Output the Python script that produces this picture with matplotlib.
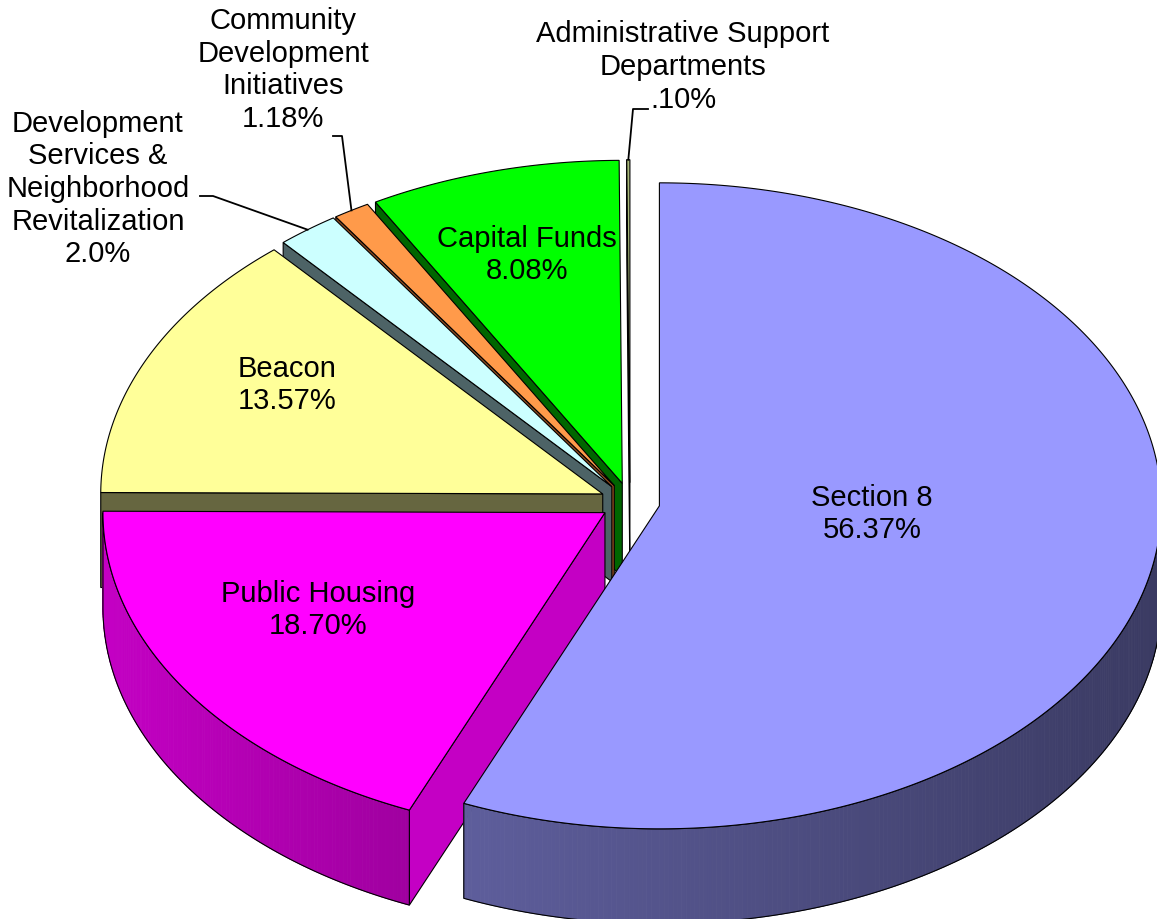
import numpy as np
import matplotlib.pyplot as plt
from matplotlib.patches import Polygon
from matplotlib.collections import PolyCollection
from matplotlib.colors import to_rgb

plt.rcParams['font.family'] = ['Liberation Sans', 'DejaVu Sans']

# data (clockwise from 12 o'clock)
names = ['Section 8', 'Public Housing', 'Beacon',
         'Development\nServices &\nNeighborhood\nRevitalization',
         'Community\nDevelopment\nInitiatives', 'Capital Funds',
         'Administrative Support\nDepartments']
shares = [56.37, 18.70, 13.57, 2.0, 1.18, 8.08, 0.10]
pct_labels = ['56.37%', '18.70%', '13.57%', '2.0%', '1.18%', '8.08%', '.10%']

top_colors = ['#9999FF', '#FF00FF', '#FFFF99', '#CCFFFF', '#FF9A4A', '#00FF00', '#A8B878']
face_colors = ['#3C3C64', '#C400C4', '#666640', '#4D6366', '#8F4A1E', '#006600', '#5A6A38']
wall_left = ['#5E5E9C', '#C400C4', '#666640', '#4D6366', '#8F4A1E', '#006600', '#5A6A38']
wall_right = ['#3A3A62', '#A000A0', '#666640', '#4D6366', '#8F4A1E', '#006600', '#5A6A38']

# layout (pixels, y down)
cx, cy = 630, 503
rx, ry = 502, 323
depth = 95
explode = 30
label_xy = [(872, 514), (318, 610), (287, 385), (98, 189), (283, 70), (527, 255), (683, 67)]
inside = [True, True, True, False, False, True, False]
elbows = {3: [(213, 197), (200, 197)], 4: [(342, 137), (333, 137)], 6: [(633, 110), (648, 110)]}

fig = plt.figure(figsize=(11.57, 9.2), dpi=100)
ax = fig.add_axes([0, 0, 1, 1])
ax.set_xlim(0, 1157)
ax.set_ylim(920, 0)
ax.axis('off')


def arc(ox, oy, phis, dz=0.0):
    r = np.radians(phis)
    return np.column_stack([ox + rx * np.cos(r), oy - ry * np.sin(r) + dz])


def wall_runs(t2, t1):
    ph = np.linspace(t2, t1, max(2, int((t1 - t2) / 0.5) + 2))
    cuts = [a for a in (-180, 0, 180, 360) if t2 < a < t1]
    ph = np.unique(np.concatenate([ph, cuts]))
    mids = (ph[:-1] + ph[1:]) / 2
    vis = np.sin(np.radians(mids)) < 0
    runs, cur = [], None
    for i, v in enumerate(vis):
        if v:
            if cur is None:
                cur = [ph[i]]
            cur.append(ph[i + 1])
        elif cur is not None:
            runs.append(np.array(cur))
            cur = None
    if cur is not None:
        runs.append(np.array(cur))
    return runs


cum = np.concatenate([[0], np.cumsum(shares)])
starts = 90 - cum[:-1] * 3.6
ends = 90 - cum[1:] * 3.6

geo = []
for i in range(len(shares)):
    t1, t2 = starts[i], ends[i]
    m = np.radians((t1 + t2) / 2)
    ox = cx + explode * np.cos(m)
    oy = cy - explode * (ry / rx) * np.sin(m)
    geo.append((t1, t2, ox, oy))

lw = 0.8
for i in reversed(range(len(shares))):
    t1, t2, ox, oy = geo[i]
    # radial side faces
    for t, nrm in ((t1, t1 + 90), (t2, t2 - 90)):
        if np.sin(np.radians(nrm)) < 0:
            p = arc(ox, oy, [t])[0]
            quad = [(ox, oy), p, (p[0], p[1] + depth), (ox, oy + depth)]
            ax.add_patch(Polygon(quad, closed=True, fc=face_colors[i], ec='black', lw=lw))
    # outer wall with gradient
    for run in wall_runs(t2, t1):
        top = arc(ox, oy, run)
        bot = arc(ox, oy, run, depth)
        xs = top[:, 0]
        span = max(xs.max() - xs.min(), 1)
        cl, cr = np.array(to_rgb(wall_left[i])), np.array(to_rgb(wall_right[i]))
        quads, cols = [], []
        for k in range(len(run) - 1):
            quads.append([top[k], top[k + 1], bot[k + 1], bot[k]])
            f = ((xs[k] + xs[k + 1]) / 2 - xs.min()) / span
            cols.append(cl + (cr - cl) * f)
        ax.add_collection(PolyCollection(quads, facecolors=cols, edgecolors=cols, linewidths=0.6))
        outline = np.vstack([top, bot[::-1]])
        ax.add_patch(Polygon(outline, closed=True, fill=False, ec='black', lw=lw))
    # top face
    phis = np.linspace(t2, t1, max(2, int((t1 - t2) / 0.5) + 2))
    pts = np.vstack([[ox, oy], arc(ox, oy, phis)])
    ax.add_patch(Polygon(pts, closed=True, fc=top_colors[i], ec='black', lw=lw))

fs = 21
for i in range(len(shares)):
    t1, t2, ox, oy = geo[i]
    x, y = label_xy[i]
    ax.text(x, y, names[i] + '\n' + pct_labels[i], ha='center', va='center',
            fontsize=fs, linespacing=1.21)
    if not inside[i]:
        p = arc(ox, oy, [(t1 + t2) / 2])[0]
        line = [tuple(p)] + elbows[i]
        ax.plot([q[0] for q in line], [q[1] for q in line], color='black', lw=1.3)

fig.savefig('out.png', dpi=100)
